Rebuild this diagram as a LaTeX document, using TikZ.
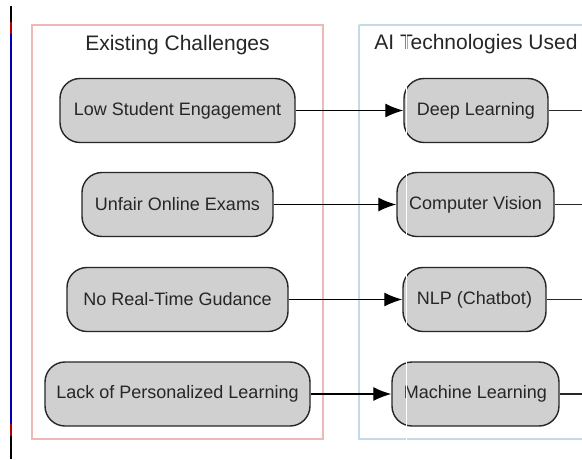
\documentclass[tikz,border=0pt]{standalone}
\usepackage{fontspec}
\setmainfont{Liberation Sans}
\usetikzlibrary{arrows.meta}
\definecolor{nodefill}{HTML}{D0D0D0}
\definecolor{nodeline}{HTML}{262626}
\definecolor{txt}{HTML}{262626}
\definecolor{redframe}{HTML}{EDB8B8}
\definecolor{blueframe}{HTML}{C4DAE8}
\tikzset{
  box/.style={draw=nodeline, fill=nodefill, line width=1.4pt, rounded corners=20pt,
    minimum height=64pt, inner sep=0pt, text=txt, font=\fontsize{18pt}{21pt}\selectfont},
  title/.style={text=txt, font=\fontsize{21pt}{24pt}\selectfont, inner sep=0pt},
  frame/.style={line width=1.3pt},
  link/.style={draw=black, line width=1.3pt, -{Latex[length=18pt,width=14pt]}},
  outlink/.style={draw=nodeline, line width=1.3pt}
}
\begin{document}
\begin{tikzpicture}[x=1pt,y=-1pt]
\useasboundingbox (0,0) rectangle (582,459);
\fill[white] (0,0) rectangle (582,459);
% left edge line
\draw[line width=1.5pt,black] (11,6) -- (11,22);
\draw[line width=1.5pt,red!70!black] (11,22) -- (11,34);
\draw[line width=1.5pt,blue!70!black] (11,34) -- (11,424);
\draw[line width=1.5pt,red!70!black] (11,424) -- (11,436);
\draw[line width=1.5pt,black] (11,436) -- (11,459);
% frames
\draw[frame,draw=redframe] (32,25) rectangle (323,439);
\draw[frame,draw=blueframe] (359,25) -- (359,439) -- (590,439);
\draw[frame,draw=blueframe] (359,25) -- (590,25);
\node[title] (t1) at (177.5,45) {Existing Challenges};
\node[title] (t2) at (476,44) {AI Technologies Used};
% left nodes
\node[box, minimum width=235pt] (c1) at (177.5,110.5) {Low Student Engagement};
\node[box, minimum width=191pt] (c2) at (177.5,204.5) {Unfair Online Exams};
\node[box, minimum width=221pt] (c3) at (177.5,299.5) {No Real-Time Gudance};
\node[box, minimum width=265pt] (c4) at (177.5,394) {Lack of Personalized Learning};
% right nodes
\node[box, minimum width=144pt] (a1) at (476,110.5) {Deep Learning};
\node[box, minimum width=157pt] (a2) at (475.5,204.5) {Computer Vision};
\node[box, minimum width=143pt] (a3) at (474.5,299.5) {NLP (Chatbot)};
\node[box, minimum width=167pt] (a4) at (475.5,394) {Machine Learning};
% arrows
\foreach \i in {1,2,3,4}{
  \draw[link] (c\i.east) -- (a\i.west);
}
\coordinate (o1) at (590,110.5);
\coordinate (o2) at (590,204.5);
\coordinate (o3) at (590,299.5);
\coordinate (o4) at (590,394);
\foreach \i in {1,2,3,4}{
  \draw[outlink] (a\i.east) -- (o\i);
}
% white scan line artifact
\draw[white,line width=1pt] (406,30) -- (406,459);
\end{tikzpicture}
\end{document}
